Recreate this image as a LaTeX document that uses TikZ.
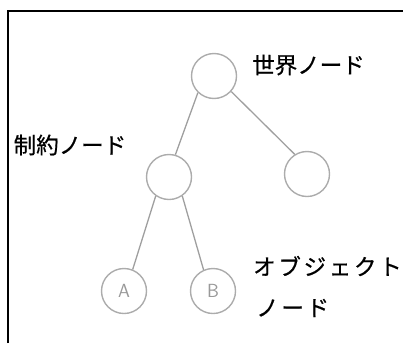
\documentclass[tikz,border=0pt]{standalone}
\usepackage{fontspec}
\newfontfamily\jpfont{Noto Sans CJK JP}[FakeBold=0.6]
\newfontfamily\jpwide{Noto Sans CJK JP}[FakeBold=0.6,LetterSpace=12]
\begin{document}
\begin{tikzpicture}[x=1pt,y=-1pt,
  tnode/.style={circle,draw=gray!65,line width=1.4pt,minimum size=45pt,inner sep=0pt,
     font=\sffamily\fontsize{19}{19}\selectfont,text=gray!80},
  edge/.style={draw=gray!75,line width=1.3pt},
  lbl/.style={inner sep=0pt,font=\jpfont\fontsize{22.5}{42}\selectfont,text=black},
  frame/.style={line width=2pt,black}]
\useasboundingbox (0,0) rectangle (403,343);
\coordinate (fl) at (8,343);
\coordinate (ft) at (8,11);
\coordinate (fr) at (403,11);
\draw[frame] (fl) -- (ft) -- (fr);
\node[tnode] (world) at (214,76) {};
\node[tnode] (cons) at (169,177) {};
\node[tnode] (right) at (307,174) {};
\node[tnode] (a) at (124,291) {A};
\node[tnode] (b) at (213,291) {B};
\draw[edge] (world.226) -- (cons.74);
\draw[edge] (world.318) -- (right.122);
\draw[edge] (cons.235) -- (a.68);
\draw[edge] (cons.305) -- (b.114);
\node[lbl] (lw) at (308.5,65) {世界ノード};
\node[lbl] (lc) at (70,145) {制約ノード};
\node[lbl,font=\jpwide\fontsize{22.5}{22.5}\selectfont,anchor=west] (lo1) at (253,266) {オブジェクト};
\node[lbl,font=\jpwide\fontsize{22.5}{22.5}\selectfont,anchor=west] (lo2) at (256,308) {ノード};
\end{tikzpicture}
\end{document}
